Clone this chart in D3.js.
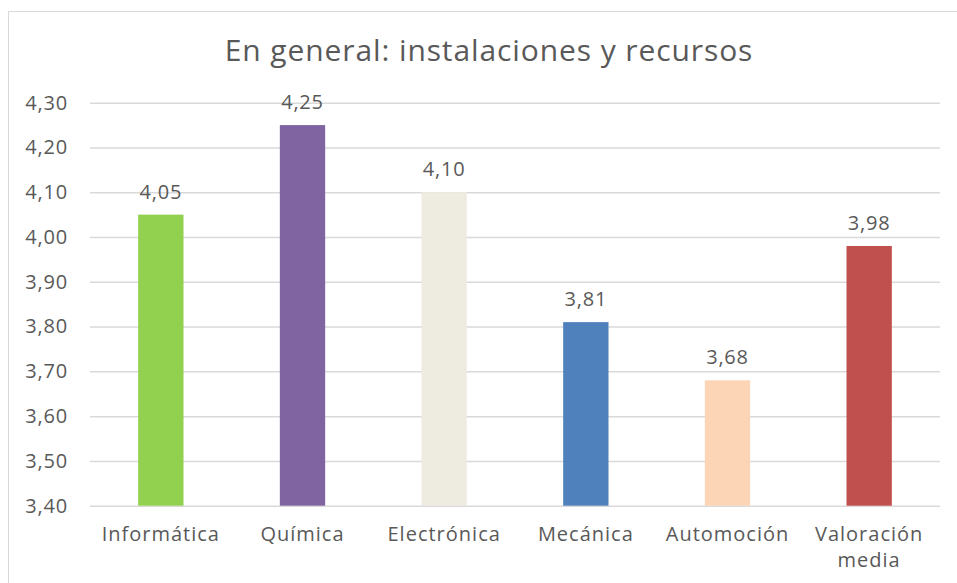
<!DOCTYPE html>
<html><head><meta charset="utf-8">
<script src="https://cdn.jsdelivr.net/npm/d3@7"></script>
<style>body{margin:0;background:#fff}svg{display:block}text{font-family:"Open Sans",sans-serif;fill:#595959}</style>
</head><body>
<script>
const categories = [["Informática"],["Química"],["Electrónica"],["Mecánica"],["Automoción"],["Valoración","media"]];
const values = [4.05, 4.25, 4.10, 3.81, 3.68, 3.98];
const colors = ["#92d050","#8064a2","#eeece1","#4f81bd","#fbd5b5","#c0504d"];
const yTicks = [3.4,3.5,3.6,3.7,3.8,3.9,4.0,4.1,4.2,4.3];
const title = "En general: instalaciones y recursos";

const W=957,H=583;
const svg=d3.select("body").append("svg").attr("width",W).attr("height",H);
svg.append("rect").attr("x",8.5).attr("y",11.5).attr("width",W+10).attr("height",H+10)
  .attr("fill","#fff").attr("stroke","#d9d9d9").attr("stroke-width",1);
const m={l:90,r:940,t:102.7,b:505.7};
const x=d3.scaleBand().domain(d3.range(values.length)).range([m.l,m.r]).paddingInner(0.68).paddingOuter(0.34);
const y=d3.scaleLinear().domain([3.4,4.3]).range([m.b,m.t]);
const fmt=v=>d3.format(".2f")(v).replace(".",",");

svg.append("text").attr("x",489).attr("y",61).attr("text-anchor","middle").attr("font-size",30)
  .attr("letter-spacing",0.9).text(title);

const ya=svg.append("g").attr("transform",`translate(${m.l},0)`)
  .call(d3.axisLeft(y).tickValues(yTicks).tickSize(-(m.r-m.l)).tickPadding(22).tickFormat(fmt));
ya.select(".domain").remove();
ya.selectAll(".tick line").attr("stroke","#d9d9d9").attr("stroke-width",1.5);
ya.selectAll(".tick text").attr("font-size",20).attr("letter-spacing",0.8).attr("fill","#595959").attr("font-family","Open Sans");

svg.selectAll("rect.bar").data(values).join("rect").attr("class","bar")
  .attr("x",(d,i)=>x(i)).attr("width",x.bandwidth())
  .attr("y",d=>y(d)).attr("height",d=>y(3.4)-y(d)).attr("fill",(d,i)=>colors[i]);

svg.selectAll("text.val").data(values).join("text").attr("class","val")
  .attr("x",(d,i)=>x(i)+x.bandwidth()/2).attr("y",d=>y(d)-16)
  .attr("text-anchor","middle").attr("font-size",20).attr("letter-spacing",0.8).text(fmt);

const xl=svg.selectAll("text.cat").data(categories).join("text").attr("class","cat")
  .attr("text-anchor","middle").attr("font-size",20).attr("letter-spacing",1)
  .attr("transform",(d,i)=>`translate(${x(i)+x.bandwidth()/2},541)`);
xl.selectAll("tspan").data(d=>d).join("tspan").attr("x",0).attr("dy",(d,j)=>j?26:0).text(d=>d);
</script>
</body></html>
